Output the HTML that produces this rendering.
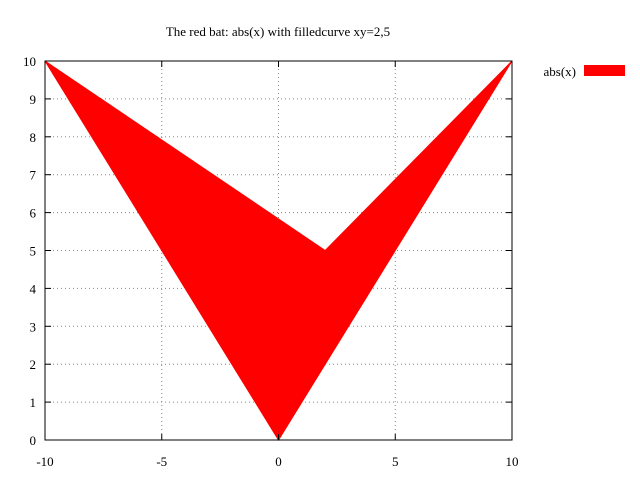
<!DOCTYPE html>
<html><head><meta charset="utf-8"><style>
body{margin:0;background:#fff;}
svg text{font-family:"Liberation Serif",serif;font-size:13px;fill:#000;}
</style></head><body>
<svg id="chart" width="640" height="480" xmlns="http://www.w3.org/2000/svg">
<text x="278" y="36" text-anchor="middle">The red bat: abs(x) with filledcurve xy=2,5</text>
<g id="grid"></g>
<g id="area"></g>
<rect x="45" y="61" width="467" height="379" fill="none" stroke="#000" stroke-width="1"/>
<g id="ticks"></g>
<text x="576" y="76" text-anchor="end">abs(x)</text>
<rect x="584" y="65" width="41" height="11" fill="#f00"/>
</svg>
<script>
const xData = [-10, -5, 0, 5, 10];
const yData = [10, 5, 0, 5, 10];
const anchor = [2, 5];
const xTicks = [-10, -5, 0, 5, 10];
const yTicks = [0,1,2,3,4,5,6,7,8,9,10];
const L=45,R=512,T=61,B=440;
const sx=v=>L+(v+10)/20*(R-L);
const sy=v=>B-v/10*(B-T);
const NS="http://www.w3.org/2000/svg";
const grid=document.getElementById('grid'),ticks=document.getElementById('ticks'),area=document.getElementById('area');
function mk(t,a,p){const e=document.createElementNS(NS,t);for(const k in a)e.setAttribute(k,a[k]);p.appendChild(e);return e;}
xTicks.forEach(v=>{const x=sx(v);
 if(v>-10&&v<10){const g=mk('line',{x1:x,x2:x,y1:T,y2:B,stroke:'#888','stroke-dasharray':'1,3','stroke-width':1},grid);
 
 }
 const t=mk('text',{x:x,y:B+26,'text-anchor':'middle'},ticks);t.textContent=v;
 
 
 mk('line',{x1:x,x2:x,y1:B,y2:B-6,stroke:'#000'},ticks);mk('line',{x1:x,x2:x,y1:T,y2:T+6,stroke:'#000'},ticks);
});
yTicks.forEach(v=>{const y=sy(v);
 if(v>0&&v<10){const g=mk('line',{x1:L,x2:R,y1:y,y2:y,stroke:'#888','stroke-dasharray':'1,3','stroke-width':1},grid);
 
 }
 const t=mk('text',{x:L-9,y:y+5,'text-anchor':'end'},ticks);t.textContent=v;
 
 
 mk('line',{x1:L,x2:L+6,y1:y,y2:y,stroke:'#000'},ticks);mk('line',{x1:R,x2:R-6,y1:y,y2:y,stroke:'#000'},ticks);
});
let pts=[[sx(anchor[0]),sy(anchor[1])]];
xData.forEach((x,i)=>pts.push([sx(x),sy(yData[i])]));
const poly=mk('polygon',{points:pts.map(p=>p.join(',')).join(' '),fill:'#f00',stroke:'#f00','stroke-width':1},area);


</script>
</body></html>
